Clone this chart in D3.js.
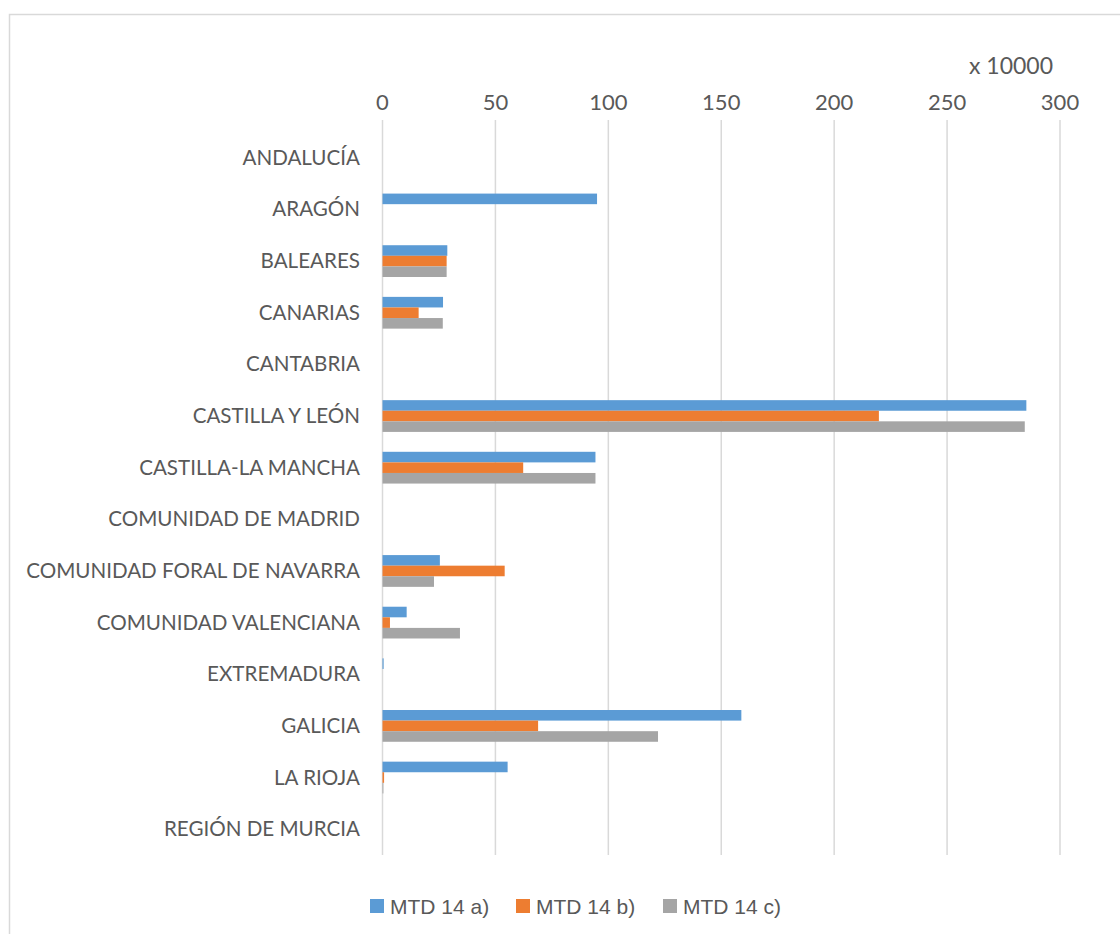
<!DOCTYPE html>
<html>
<head>
<meta charset="utf-8">
<script src="https://cdn.jsdelivr.net/npm/d3@7"></script>
<style>
  body { margin: 0; background: #fff; }
  svg text { fill: #595959; }
</style>
</head>
<body>
<div id="chart"></div>
<script>
// categories, top to bottom
var regions = ['ANDALUCÍA', 'ARAGÓN', 'BALEARES', 'CANARIAS', 'CANTABRIA', 'CASTILLA Y LEÓN',
  'CASTILLA-LA MANCHA', 'COMUNIDAD DE MADRID', 'COMUNIDAD FORAL DE NAVARRA',
  'COMUNIDAD VALENCIANA', 'EXTREMADURA', 'GALICIA', 'LA RIOJA', 'REGIÓN DE MURCIA'];
var seriesNames = ['MTD 14 a)', 'MTD 14 b)', 'MTD 14 c)'];
// values in units of 10000
var mtdA = [0, 95, 28.7, 26.8, 0, 285.1, 94.3, 0, 25.4, 10.7, 0.5, 158.9, 55.4, 0];
var mtdB = [0, 0, 28.4, 16.0, 0, 219.8, 62.3, 0, 54.1, 3.3, 0, 68.9, 0.7, 0];
var mtdC = [0, 0, 28.4, 26.7, 0, 284.4, 94.3, 0, 22.8, 34.3, 0, 122.0, 0.4, 0];
var ticks = [0, 50, 100, 150, 200, 250, 300];
var colors = ['#5b9bd5', '#ed7d31', '#a5a5a5'];

(function(){
  var W = 1120, H = 934;
  var plotL = 382.5, plotR = 1060, plotT = 132, plotB = 855;
  var labelFont = 'Lato, sans-serif';

  var svg = d3.select('#chart').append('svg').attr('width', W).attr('height', H);

  // chart frame (runs off the right and bottom edges)
  svg.append('rect').attr('x', 9.5).attr('y', 14.5).attr('width', W + 10).attr('height', H + 10)
    .attr('fill', 'none').attr('stroke', '#d9d9d9').attr('stroke-width', 1.5);

  var x = d3.scaleLinear().domain([0, 300]).range([plotL, plotR]);
  var y = d3.scaleBand().domain(regions).range([plotT, plotB]).paddingInner(0.385).paddingOuter(0.1925);
  var ySub = d3.scaleBand().domain(d3.range(3)).range([0, y.bandwidth()]);

  // gridlines
  svg.append('g').selectAll('line').data(ticks).join('line')
    .attr('x1', d => x(d)).attr('x2', d => x(d))
    .attr('y1', 120).attr('y2', plotB)
    .attr('stroke', '#d9d9d9').attr('stroke-width', 1.5);

  // tick labels along the top
  svg.append('g').selectAll('text').data(ticks).join('text')
    .attr('x', d => x(d)).attr('y', 110)
    .attr('text-anchor', 'middle')
    .style('font-family', labelFont).style('font-size', '22px')
    .text(d => d);

  svg.append('text').attr('x', 1053).attr('y', 74).attr('text-anchor', 'end')
    .style('font-family', labelFont).style('font-size', '23px')
    .text('x 10000');

  // category labels
  svg.append('g').selectAll('text').data(regions).join('text')
    .attr('x', 360).attr('y', d => y(d) + y.bandwidth() / 2 + 7)
    .attr('text-anchor', 'end')
    .style('font-family', labelFont).style('font-size', '20.6px')
    .text(d => d);

  // bars
  [mtdA, mtdB, mtdC].forEach(function(vals, s){
    svg.append('g').selectAll('rect').data(vals).join('rect')
      .attr('x', x(0))
      .attr('y', (d, i) => y(regions[i]) + ySub(s))
      .attr('width', d => x(d) - x(0))
      .attr('height', ySub.bandwidth())
      .attr('fill', colors[s]);
  });

  // legend
  var legendX = [370, 516, 663];
  var lg = svg.append('g').selectAll('g').data(seriesNames).join('g')
    .attr('transform', (d, i) => 'translate(' + legendX[i] + ',899)');
  lg.append('rect').attr('width', 14).attr('height', 14).attr('fill', (d, i) => colors[i]);
  lg.append('text').attr('x', 20).attr('y', 14.5)
    .style('font-family', '"Liberation Sans", Arial, sans-serif').style('font-size', '21px')
    .text(d => d);
})();
</script>
</body>
</html>
